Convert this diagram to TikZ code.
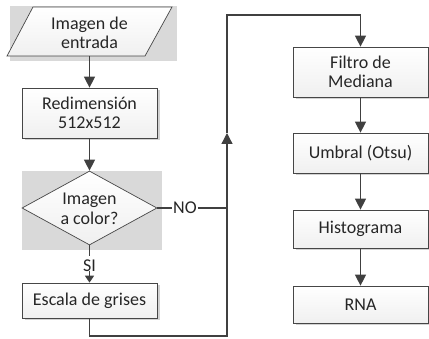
\documentclass[tikz,border=0pt]{standalone}
\usepackage{fontspec}
\setmainfont{Carlito}
\usetikzlibrary{arrows.meta,shapes.geometric,shadows}
\tikzset{
  procbox/.style={draw=gray!55!black, line width=0.7pt, top color=white, bottom color=gray!12,
    minimum width=135pt, inner sep=0pt, align=center, text=black!85,
    font=\fontsize{18}{19.5}\selectfont,
    drop shadow={shadow xshift=2.5pt, shadow yshift=-2.5pt, fill=gray!35, opacity=1}},
  lbl/.style={inner sep=1pt, text=black!85, font=\fontsize{18}{19.5}\selectfont, align=center},
  conn/.style={draw=black!75, line width=1.3pt},
  arr/.style={conn, -{Triangle[length=11pt,width=11pt]}},
  smallarr/.style={conn, -{Triangle[length=7pt,width=9pt]}},
  bgrect/.style={fill=gray!30, draw=none}
}
\begin{document}
\begin{tikzpicture}[x=1pt,y=-1pt]
\useasboundingbox (0,0) rectangle (429,339);
% input parallelogram
\fill[gray!30] (10,6) rectangle (177,61);
\draw[gray!55!black, line width=0.7pt, top color=white, bottom color=gray!12]
  (33,7) -- (172,7) -- (145,56) -- (7,56) -- cycle;
\node[lbl] (inp) at (89.5,33) {Imagen de\\entrada};
\coordinate (inpb) at (89.5,56);
% resize
\node[procbox, minimum height=50pt] (redim) at (89.5,113) {Redimensión\\512x512};
% decision
\fill[gray!30] (22,171) rectangle (162,250);
\node[diamond, draw=gray!55!black, line width=0.7pt, top color=white, bottom color=gray!12,
  minimum width=135pt, minimum height=74pt, inner sep=0pt] (dec) at (89.5,208) {};
\node[lbl] (dect) at (89.5,209) {Imagen\\a color?};
\node[lbl] (no) at (185,208) {NO};
\node[lbl, inner sep=0pt] (si) at (89.5,266) {SI};
% gray
\node[procbox, minimum height=35pt] (gris) at (89.5,300.5) {Escala de grises};
% right column
\node[procbox, minimum height=50pt] (filt) at (360.5,72) {Filtro de\\Mediana};
\node[procbox, minimum height=40pt] (umb) at (360.5,153) {Umbral (Otsu)};
\node[procbox, minimum height=38pt] (hist) at (360.5,229) {Histograma};
\node[procbox, minimum height=37pt] (rna) at (360.5,304.5) {RNA};
% connector points
\coordinate (bot) at (89.5,336);
\coordinate (botr) at (227,336);
\coordinate (mid) at (227,133);
\coordinate (noj) at (227,208);
\coordinate (topl) at (227,15);
% connectors
\draw[arr] (inpb) -- (redim);
\draw[arr] (redim) -- (dec.north);
\draw[conn] (dec.east) -- (no.west);
\draw[conn] (no.east) -- (noj);
\draw[conn] (dec.south) -- ([yshift=4pt]si.north);
\draw[smallarr] ([yshift=1pt]si.south) -- (gris.north);
\draw[arr] (gris.south) -- (bot) -- (botr) -- (mid);
\draw[arr] (mid) -- (topl) -| (filt.north);
\draw[arr] (filt) -- (umb);
\draw[arr] (umb) -- (hist);
\draw[arr] (hist) -- (rna);
\end{tikzpicture}
\end{document}
